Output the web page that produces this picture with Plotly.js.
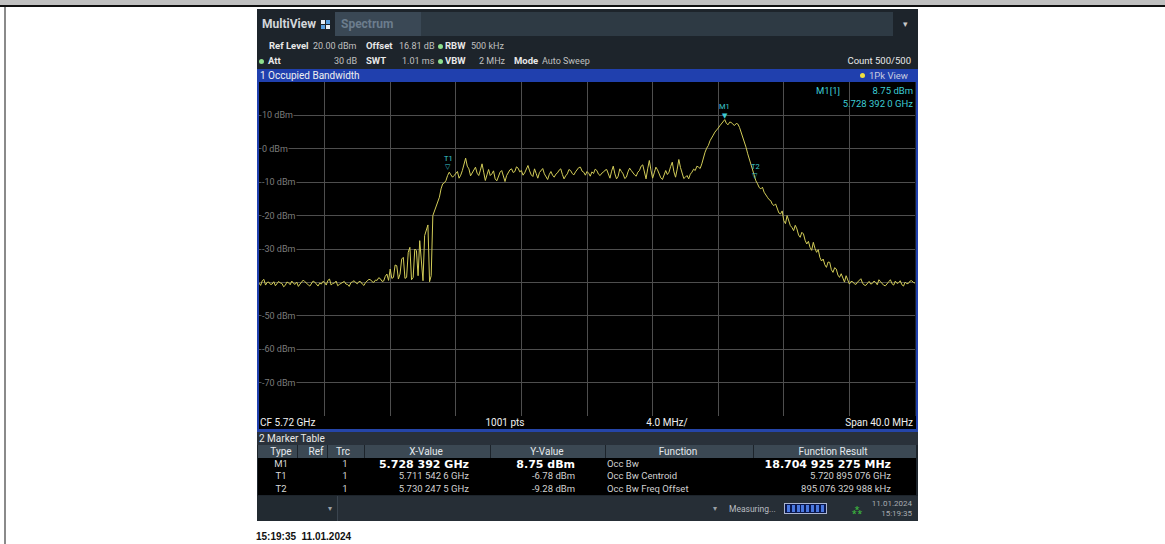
<!DOCTYPE html>
<html><head><meta charset="utf-8">
<script src="https://cdn.plot.ly/plotly-3.0.1.min.js"></script>
<style>
body{margin:0;width:1165px;height:544px;background:#fff;position:relative;overflow:hidden;font-family:Roboto,"Noto Sans",sans-serif;}
.a{position:absolute;white-space:nowrap;line-height:1;}
.b{position:absolute;}
#plot{position:absolute;left:259px;top:82px;width:656px;height:334px;}
</style></head>
<body>
<div id="plot"></div>
<script>
// ---- sweep settings ----
const startFreqGHz = [5.700];
const stopFreqGHz = [5.740];
// ---- trace 1 level (dBm) at 0.1 MHz steps ----
const traceLevels = [
 -40.2,-40.9,-39.5,-39.1,-40.8,-40.0,-39.9,-40.6,-40.5,-39.8,-41.0,-40.4,-39.7,-40.2,-40.3,-41.3,-40.9,-39.9,-40.1,-40.7,
 -39.6,-40.3,-40.6,-39.9,-41.2,-40.5,-40.0,-39.3,-39.8,-40.4,-40.7,-41.1,-40.4,-39.6,-39.9,-40.5,-41.1,-40.2,-40.5,-39.7,
 -40.0,-40.8,-39.4,-39.0,-40.8,-40.3,-40.2,-39.6,-41.0,-40.6,-40.3,-39.9,-39.7,-40.5,-40.6,-41.2,-40.1,-39.8,-39.5,-40.1,
 -40.4,-39.7,-39.8,-40.5,-40.9,-40.0,-39.6,-39.1,-39.2,-39.8,-40.0,-39.3,-39.4,-38.6,-38.9,-39.7,-39.6,-38.2,-37.5,-39.4,
 -36.0,-38.8,-38.5,-34.8,-35.0,-39.0,-37.5,-33.0,-32.5,-38.8,-38.5,-31.0,-29.5,-39.2,-38.5,-30.0,-30.5,-38.0,-27.5,-33.0,
 -39.5,-26.0,-24.5,-22.8,-39.8,-38.0,-20.0,-18.5,-17.0,-15.8,-14.5,-12.0,-10.5,-10.2,-9.5,-8.0,-7.0,-7.8,-8.5,-8.0,
 -7.5,-6.8,-8.8,-7.9,-6.5,-4.5,-2.8,-5.2,-6.0,-8.1,-7.2,-6.1,-5.5,-7.3,-8.0,-6.4,-4.5,-7.0,-9.5,-7.8,
 -6.2,-8.0,-7.5,-6.6,-9.0,-9.6,-8.2,-7.0,-6.5,-8.4,-9.8,-8.0,-7.0,-6.3,-6.0,-7.1,-6.8,-5.4,-5.8,-6.9,
 -6.5,-7.9,-7.2,-6.1,-5.0,-6.6,-7.8,-8.3,-6.0,-7.4,-8.8,-7.1,-6.6,-5.9,-7.5,-8.6,-9.2,-7.7,-6.8,-7.9,
 -8.5,-7.6,-7.2,-6.4,-6.0,-7.7,-9.0,-8.1,-7.5,-6.2,-6.5,-7.4,-7.8,-6.9,-6.2,-5.6,-5.5,-6.7,-7.0,-7.9,
 -6.8,-7.3,-8.2,-6.9,-7.4,-6.1,-6.5,-7.6,-8.0,-7.3,-7.0,-6.4,-6.2,-7.9,-8.8,-6.7,-5.2,-7.5,-9.0,-8.2,
 -6.0,-6.8,-7.5,-8.9,-8.5,-6.9,-5.8,-6.5,-7.2,-7.8,-8.2,-7.0,-6.5,-5.2,-4.8,-7.1,-9.0,-6.0,-3.5,-6.4,
 -8.8,-7.2,-5.5,-6.3,-7.8,-8.7,-9.2,-7.6,-6.5,-7.7,-7.0,-5.3,-4.0,-6.9,-8.5,-6.1,-3.2,-5.6,-7.5,-8.9,
 -8.5,-8.0,-9.0,-7.6,-7.0,-6.1,-6.5,-5.2,-5.5,-5.9,-4.5,-2.6,-1.0,0.2,1.0,2.4,3.5,4.1,5.0,5.8,
 6.2,6.9,7.5,8.1,8.75,7.6,7.2,8.0,7.9,7.3,7.0,7.6,7.4,6.4,5.0,3.6,2.0,0.4,-1.5,-3.2,
 -5.0,-6.8,-8.5,-9.6,-10.5,-11.6,-12.0,-11.5,-13.0,-13.9,-14.5,-15.2,-15.5,-16.6,-17.0,-16.5,-18.0,-19.2,-19.5,-18.6,
 -21.5,-22.4,-20.0,-21.8,-23.0,-23.6,-24.5,-22.9,-24.0,-25.8,-26.5,-25.0,-25.5,-27.4,-28.5,-27.7,-29.5,-30.4,-28.0,-29.8,
 -31.0,-30.2,-32.5,-33.6,-33.0,-34.7,-35.5,-33.9,-34.0,-36.2,-37.0,-35.6,-36.0,-37.8,-38.5,-37.4,-39.0,-39.9,-38.0,-39.4,
 -40.5,-39.7,-39.8,-40.4,-40.6,-39.9,-39.5,-38.9,-40.2,-40.8,-40.9,-40.1,-39.7,-40.5,-40.3,-39.6,-40.0,-40.7,-39.2,-39.8,
 -40.5,-40.9,-41.0,-40.2,-39.8,-39.2,-40.4,-40.8,-39.6,-40.3,-40.1,-39.5,-40.7,-41.1,-39.9,-40.4,-40.3,-39.6,-39.5,-40.0,
 -40.2
];
// ---- markers ----
const markerNames = ["M1","T1","T2"];
const markerFreqGHz = [5.728392, 5.7115426, 5.7302475];
const markerLevels = [8.75, -6.78, -9.28];
const markerXText = ["5.728 392 GHz","5.711 542 6 GHz","5.730 247 5 GHz"];
const markerYText = ["8.75 dBm","-6.78 dBm","-9.28 dBm"];
const markerTrc = ["1","1","1"];
const markerFunctions = ["Occ Bw","Occ Bw Centroid","Occ Bw Freq Offset"];
const functionResults = ["18.704 925 275 MHz","5.720 895 076 GHz","895.076 329 988 kHz"];
// ---- axis labels ----
const levelTicks = [10,0,-10,-20,-30,-50,-60,-70];
const levelTickText = ["10 dBm","0 dBm","-10 dBm","-20 dBm","-30 dBm","-50 dBm","-60 dBm","-70 dBm"];

const nPts = traceLevels.length;
const freqs = traceLevels.map((_, i) => startFreqGHz[0] + i * (stopFreqGHz[0] - startFreqGHz[0]) / (nPts - 1));

const CY = '#3ccbd4';
const ann = [];
levelTicks.forEach((v, i) => ann.push({xref:'paper', x:0, xanchor:'left', xshift:2, y:v, yref:'y', text:levelTickText[i], showarrow:false, font:{family:'Roboto', size:9, color:'#7c7c7c'}, bgcolor:'#000', borderpad:0}));
const mSym = ['▼','▽','▽'];
markerNames.forEach((n, i) => {
  ann.push({x:markerFreqGHz[i], y:markerLevels[i], text:n, showarrow:false, yanchor:'middle', yshift:13, font:{family:'Roboto', size:7.5, color:CY}});
  ann.push({x:markerFreqGHz[i], y:markerLevels[i], text:mSym[i], showarrow:false, yanchor:'middle', yshift:4, font:{family:'DejaVu Sans', size:7, color:CY}});
});

Plotly.newPlot('plot', [{
  x: freqs, y: traceLevels, type:'scatter', mode:'lines',
  line:{color:'#d2cc58', width:1}, hoverinfo:'skip'
}], {
  width:656, height:334, margin:{l:0,r:0,t:0,b:0},
  paper_bgcolor:'#000', plot_bgcolor:'#000', showlegend:false,
  xaxis:{range:[5.70,5.74], tick0:5.70, dtick:0.004, showticklabels:false, gridcolor:'#4e4e4e', gridwidth:1, zeroline:false, showline:false, ticks:''},
  yaxis:{range:[-80,20], tick0:0, dtick:10, showticklabels:false, gridcolor:'#4e4e4e', gridwidth:1, zeroline:false, showline:false, ticks:''},
  annotations: ann
}, {staticPlot:true, displayModeBar:false});

// ---- instrument chrome ----
function B(x,y,w,h,c,extra){const d=document.createElement('div');d.className='b';d.style.cssText=`left:${x}px;top:${y}px;width:${w}px;height:${h}px;background:${c};`+(extra||'');document.body.appendChild(d);return d;}
function T(s,x,y,o){o=o||{};const d=document.createElement('div');d.className='a';d.textContent=s;
  d.style.fontSize=(o.size||9)+'px';d.style.color=o.color||'#e8e8e8';
  if(o.bold)d.style.fontWeight='bold';if(o.family)d.style.fontFamily=o.family;
  d.style.top=y+'px';
  if(o.align==='right'){d.style.right=(1165-x)+'px';d.style.transform='translateY(-50%)';}
  else if(o.align==='center'){d.style.left=x+'px';d.style.transform='translate(-50%,-50%)';}
  else{d.style.left=x+'px';d.style.transform='translateY(-50%)';}
  document.body.appendChild(d);return d;}
function bodyFirst(el){document.body.insertBefore(el, document.body.firstChild);}

// page frame
B(0,0,1165,5,'#c0c0c0');B(0,5,1165,2,'#101010');B(4,7,2,537,'#8a8a8a');
// window background
const bg=B(257,9,661,512,'#1d242b');bodyFirst(bg);
// tab row
B(335,12,86,24,'#3a4855');B(421,12,472,24,'#2e3a44');
T('MultiView',262,24,{size:12,bold:true,color:'#d2d6da'});
B(321,20,4,4,'#e8eef4');B(326,20,4,4,'#5aa0e0');B(321,25,4,4,'#5aa0e0');B(326,25,4,4,'#e8eef4');
T('Spectrum',341,24,{size:12,bold:true,color:'#6c7d8d'});
T('▾',905,24,{size:9,color:'#c8c8c8',align:'center'});
// info rows
const G='#8ee08e';
const V={size:9,color:'#c0c0c0'};
function dot(x,y,c){B(x-2.5,y-2.5,5,5,c,'border-radius:50%;');}
T('Ref Level',269,46,{size:9.5,bold:true});T('20.00 dBm',313,46,V);
T('Offset',366,46,{size:9.5,bold:true});T('16.81 dB',399,46,V);
dot(440,46,G);T('RBW',445,46,{size:9.5,bold:true});T('500 kHz',471,46,V);
dot(261,61,G);T('Att',268,61,{size:9.5,bold:true});T('30 dB',357,61,Object.assign({align:'right'},V));
T('SWT',366,61,{size:9.5,bold:true});T('1.01 ms',402,61,V);
dot(440,61,G);T('VBW',445,61,{size:9.5,bold:true});T('2 MHz',479,61,V);
T('Mode',514,61,{size:9.5,bold:true});T('Auto Sweep',542,61,V);
T('Count 500/500',911,61,{size:9.5,color:'#e8e8e8',align:'right'});
// blue window frame
B(257,69,661,13,'#2040ae');
B(257,69,2,363,'#2040ae');B(916,69,2,363,'#2040ae');B(257,429,661,3,'#2545a8');
T('1 Occupied Bandwidth',260,75.5,{size:10,color:'#f0f0f0'});
dot(862,75.5,'#f0e040');T('1Pk View',908,75.5,{size:9.5,color:'#c8cce0',align:'right'});
// readout
T('M1[1]',828,91,{size:9.5,color:CY,align:'center'});
T('8.75 dBm',913,91,{size:9.5,color:CY,align:'right'});
T('5.728 392 0 GHz',913,104,{size:9.5,color:CY,align:'right'});
// bottom axis row
B(259,416,657,13,'#000');
T('CF 5.72 GHz',260,423,{size:10,color:'#f0f0f0'});
T('1001 pts',505,423,{size:10,color:'#f0f0f0',align:'center'});
T('4.0 MHz/',667,423,{size:10,color:'#f0f0f0',align:'center'});
T('Span 40.0 MHz',913,423,{size:10,color:'#f0f0f0',align:'right'});
// marker table
B(257,432,661,13,'#29313a');
T('2 Marker Table',259,438.5,{size:10,color:'#e8e8e8'});
B(258,445,658,13,'#3b4853');
[297,327,364,490,605,753].forEach(x=>B(x,445,1,13,'#1d242b'));
const H={size:10,color:'#e4e8ec'};
T('Type',281,451.5,Object.assign({align:'center'},H));T('Ref',316,451.5,Object.assign({align:'center'},H));
T('Trc',343,451.5,Object.assign({align:'center'},H));T('X-Value',426,451.5,Object.assign({align:'center'},H));
T('Y-Value',547,451.5,Object.assign({align:'center'},H));T('Function',678,451.5,Object.assign({align:'center'},H));
T('Function Result',833,451.5,Object.assign({align:'center'},H));
B(258,458,658,37,'#000');
const rowY=[463.5,476,488.5];
markerNames.forEach((n,i)=>{
  const bold=i===0;const c=bold?'#ffffff':'#d0d0d0';
  T(n,281,rowY[i],{size:9.5,color:'#d8d8d8',align:'center'});
  T(markerTrc[i],345,rowY[i],{size:9.5,color:'#d8d8d8',align:'center'});
  if(bold){
    T(markerXText[i],469,rowY[i],{size:11,bold:true,color:c,align:'right',family:'DejaVu Sans'});
    T(markerYText[i],575,rowY[i],{size:11,bold:true,color:c,align:'right',family:'DejaVu Sans'});
    T(functionResults[i],891,rowY[i],{size:11,bold:true,color:c,align:'right',family:'DejaVu Sans'});
  } else {
    T(markerXText[i],469,rowY[i],{size:9.5,color:c,align:'right'});
    T(markerYText[i],575,rowY[i],{size:9.5,color:c,align:'right'});
    T(functionResults[i],891,rowY[i],{size:9.5,color:c,align:'right'});
  }
  T(markerFunctions[i],607,rowY[i],{size:9.5,color:'#d0d0d0'});
});
// status bar
B(257,496,661,25,'#262e36');B(257,496,80,25,'#222a31');B(337,496,1,25,'#3a444e');
T('▾',330,509,{size:8,color:'#9aa0a6',align:'center'});
T('▾',715,509,{size:8,color:'#9aa0a6',align:'center'});
T('Measuring...',729,509,{size:8.5,color:'#b8bcc0'});
B(784,503,43,11,'#0a1850','border:1px solid #aab4d0;box-sizing:border-box;');
for(let k=0;k<8;k++)B(787+k*4.8,505,3,7,'#4a78e0');
T('⁂',857,510,{size:9,color:'#3fc43f',align:'center'});
T('11.01.2024',912,504,{size:8,color:'#a8acb0',align:'right'});
T('15:19:35',912,514,{size:8,color:'#a8acb0',align:'right'});
// caption
T('15:19:35  11.01.2024',256,537,{size:10,bold:true,color:'#101010',family:'Liberation Sans'}).style.whiteSpace='pre';
</script>
</body></html>
